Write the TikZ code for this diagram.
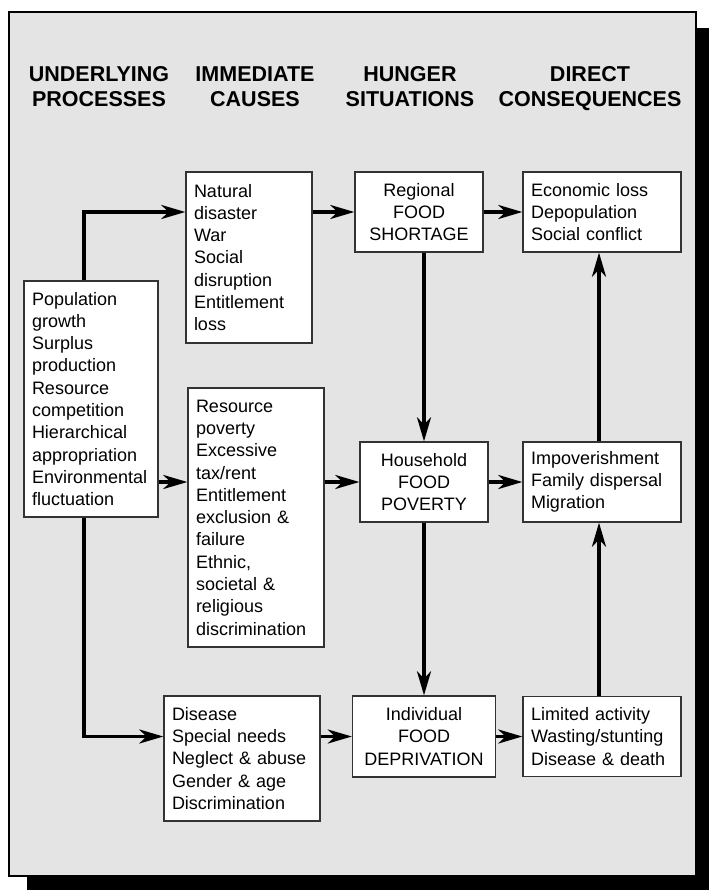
\documentclass[tikz,border=0pt]{standalone}
\usepackage{fontspec}
\setmainfont{Liberation Sans}
\usetikzlibrary{arrows.meta}

\definecolor{panelgray}{HTML}{E4E4E4}
\definecolor{boxline}{HTML}{333333}

\tikzset{
	heading/.style={align=center, anchor=north, inner sep=0pt, font=\fontsize{21.5}{25}\selectfont\bfseries},
	listbox/.style={draw=boxline, line width=1.3pt, fill=white, align=left, inner xsep=8pt,
		font=\fontsize{18}{22.3}\selectfont},
	hungerbox/.style={listbox, align=center},
	flow/.style={line width=3.2pt, -{Stealth[length=24pt, width=14pt, inset=7pt]}},
}

\begin{document}
\begin{tikzpicture}[x=1pt, y=-1pt, auto]
	\useasboundingbox (0,0) rectangle (709,890);
	\fill[black] (27,28) rectangle (709,890);
	\draw[fill=panelgray, line width=2pt] (9,12) rectangle (696,876);

	\node[heading] (headUnder) at (99,66.5) {UNDERLYING\\PROCESSES};
	\node[heading] (headCause) at (255,66.5) {IMMEDIATE\\CAUSES};
	\node[heading] (headHunger) at (410,66.5) {HUNGER\\SITUATIONS};
	\node[heading] (headConseq) at (590,66.5) {DIRECT\\CONSEQUENCES};

	\node[listbox, text width=118pt, minimum height=236pt] (under) at (91,399)
		{Population\\growth\\Surplus\\production\\Resource\\competition\\Hierarchical\\appropriation\\Environmental\\fluctuation};
	\node[listbox, text width=110pt, minimum height=171pt] (natural) at (249,257.5)
		{Natural\\disaster\\War\\Social\\disruption\\Entitlement\\loss};
	\node[listbox, text width=120pt, minimum height=259pt] (resource) at (256,517.5)
		{Resource\\poverty\\Excessive\\tax/rent\\Entitlement\\exclusion \&\\failure\\Ethnic,\\societal \&\\religious\\discrimination};
	\node[listbox, text width=140pt, minimum height=125pt] (disease) at (242,758.5)
		{Disease\\Special needs\\Neglect \& abuse\\Gender \& age\\Discrimination};

	\node[hungerbox, text width=112pt, minimum height=80pt] (regional) at (419,212)
		{Regional\\FOOD\\SHORTAGE};
	\node[hungerbox, text width=112pt, minimum height=80pt] (household) at (424,482)
		{Household\\FOOD\\POVERTY};
	\node[hungerbox, text width=127pt, minimum height=81pt] (individual) at (424,736.5)
		{Individual\\FOOD\\DEPRIVATION};

	\node[listbox, text width=142pt, minimum height=80pt] (economic) at (602,212)
		{Economic loss\\Depopulation\\Social conflict};
	\node[listbox, text width=142pt, minimum height=80pt] (impov) at (602,482)
		{Impoverishment\\Family dispersal\\Migration};
	\node[listbox, text width=142pt, minimum height=80pt] (limited) at (602,736.5)
		{Limited activity\\Wasting/stunting\\Disease \& death};

	\draw[flow] ([xshift=-7pt]under.north) |- (natural.west |- regional);
	\draw[flow] (under.east |- household) -- (resource.west |- household);
	\draw[flow] ([xshift=-7pt]under.south) |- (disease.west |- individual);
	\draw[flow] (natural.east |- regional) -- (regional);
	\draw[flow] (resource.east |- household) -- (household);
	\draw[flow] (disease.east |- individual) -- (individual);
	\draw[flow] (regional) -- (economic);
	\draw[flow] (household) -- (impov);
	\draw[flow] (individual) -- (limited);
	\draw[flow] (regional.south -| household) -- (household);
	\draw[flow] (household) -- (individual);
	\draw[flow] ([xshift=-3pt]limited.north) -- ([xshift=-3pt]impov.south);
	\draw[flow] ([xshift=-3pt]impov.north) -- ([xshift=-3pt]economic.south);
\end{tikzpicture}
\end{document}
